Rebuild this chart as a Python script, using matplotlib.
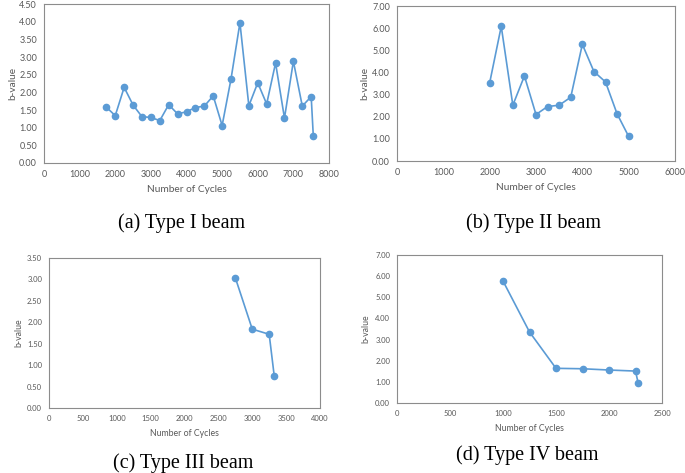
import numpy as np
import matplotlib
matplotlib.use("Agg")
import matplotlib.pyplot as plt

# cycles / b-values per beam type
cycles_1 = [1750, 2000, 2250, 2500, 2750, 3000, 3250, 3500, 3750, 4000, 4250, 4500,
            4750, 5000, 5250, 5500, 5750, 6000, 6250, 6500, 6750, 7000, 7250, 7500, 7560]
bval_1 = [1.58, 1.34, 2.14, 1.64, 1.31, 1.29, 1.20, 1.65, 1.39, 1.45, 1.57, 1.61,
          1.90, 1.06, 2.38, 3.97, 1.62, 2.27, 1.67, 2.83, 1.27, 2.88, 1.61, 1.88, 0.75]

cycles_2 = [2000, 2250, 2500, 2750, 3000, 3250, 3500, 3750, 4000, 4250, 4500, 4750, 5000]
bval_2 = [3.53, 6.08, 2.52, 3.84, 2.10, 2.46, 2.52, 2.88, 5.27, 4.04, 3.57, 2.13, 1.11]

cycles_3 = [2750, 3000, 3250, 3325]
bval_3 = [3.04, 1.84, 1.72, 0.74]

cycles_4 = [1000, 1250, 1500, 1750, 2000, 2250, 2275]
bval_4 = [5.77, 3.36, 1.64, 1.62, 1.56, 1.51, 0.95]

captions = ["(a) Type I beam", "(b) Type II beam", "(c) Type III beam", "(d) Type IV beam"]

W, H = 685, 473
BLUE = "#5B9BD5"
GREY = "#595959"

fig = plt.figure(figsize=(W / 100, H / 100), dpi=100)


def px_axes(left, top, right, bottom):
    return fig.add_axes([left / W, 1 - bottom / H, (right - left) / W, (bottom - top) / H])


def style(ax, x, y, xmax, xstep, ymax, ystep, fs, caption, cap_xy, xl_y, yl_x):
    ax.plot(x, y, color=BLUE, lw=1.2, marker="o", ms=4.5, mfc=BLUE, mec=BLUE)
    ax.set_xlim(0, xmax)
    ax.set_ylim(0, ymax)
    ax.set_xticks(np.arange(0, xmax + 1, xstep))
    ax.set_yticks(np.arange(0, ymax + 1e-9, ystep))
    ax.set_yticklabels([f"{v:.2f}" for v in np.arange(0, ymax + 1e-9, ystep)])
    ax.tick_params(length=0, labelsize=fs, colors=GREY, pad=5)
    for sp in ax.spines.values():
        sp.set_color("#8c8c8c")
        sp.set_linewidth(0.8)
    bb = ax.get_position()
    cx = (bb.x0 + bb.x1) / 2
    fig.text(cx, 1 - xl_y / H, "Number of Cycles", ha="center", va="center",
             fontsize=fs + 0.8, color=GREY, family="Lato")
    fig.text(yl_x / W, (bb.y0 + bb.y1) / 2, "b-value", ha="center", va="center",
             rotation=90, fontsize=fs + 0.8, color=GREY, family="Lato")
    fig.text(cap_xy[0] / W, 1 - cap_xy[1] / H, caption, ha="center", va="center",
             fontsize=14.5, family="Liberation Serif", color="black")
    for lab in ax.get_xticklabels() + ax.get_yticklabels():
        lab.set_family("Lato")


ax1 = px_axes(44, 4, 329, 163)
style(ax1, cycles_1, bval_1, 8000, 1000, 4.5, 0.5, 6.5, captions[0], (182, 223), 189, 13)

ax2 = px_axes(397, 6, 675, 161)
style(ax2, cycles_2, bval_2, 6000, 1000, 7.0, 1.0, 6.5, captions[1], (534, 223), 187, 365)

ax3 = px_axes(49, 258, 320, 408)
style(ax3, cycles_3, bval_3, 4000, 500, 3.5, 0.5, 5.5, captions[2], (183, 463), 433, 19)

ax4 = px_axes(397, 255, 662, 403)
style(ax4, cycles_4, bval_4, 2500, 500, 7.0, 1.0, 5.5, captions[3], (527, 455), 428, 366)

fig.savefig("out.png", dpi=100)
